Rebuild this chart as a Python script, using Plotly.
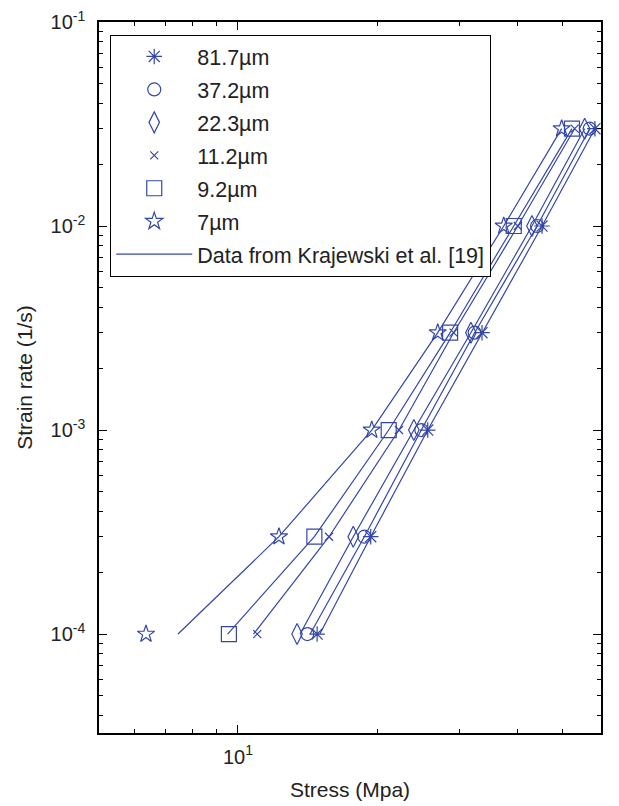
import plotly.graph_objects as go

# Strain rates (1/s)
rates = [1e-4, 3e-4, 1e-3, 3e-3, 1e-2, 3e-2]

# Measured stresses (MPa) for each grain size
grain_labels = ["81.7\u00b5m", "37.2\u00b5m", "22.3\u00b5m", "11.2\u00b5m", "9.2\u00b5m", "7\u00b5m"]
stress_81_7 = [14.8, 19.3, 25.6, 33.5, 45.1, 58.6]
stress_37_2 = [14.1, 18.7, 24.8, 32.3, 44.0, 57.1]
stress_22_3 = [13.4, 17.7, 23.9, 31.7, 42.9, 55.7]
stress_11_2 = [11.0, 15.7, 22.2, 29.1, 40.0, 53.0]
stress_9_2 = [9.56, 14.6, 21.1, 28.6, 39.2, 52.3]
stress_7 = [6.34, 12.25, 19.4, 26.9, 37.3, 49.7]

# Krajewski et al. [19] curves
kraj_81_7 = [15.0, 19.3, 25.6, 33.5, 45.1, 58.6]
kraj_37_2 = [14.3, 18.7, 24.8, 32.3, 44.0, 57.1]
kraj_22_3 = [13.6, 17.7, 23.9, 31.7, 42.9, 55.7]
kraj_11_2 = [10.8, 15.7, 22.2, 29.1, 40.0, 53.0]
kraj_9_2 = [9.5, 14.6, 21.1, 28.6, 39.2, 52.3]
kraj_7 = [7.43, 12.25, 19.4, 26.9, 37.3, 49.7]

# Axis ticks
y_tickvals = [1e-4, 1e-3, 1e-2, 1e-1]
y_ticktext = ["10<sup>-4</sup>", "10<sup>-3</sup>", "10<sup>-2</sup>", "10<sup>-1</sup>"]
x_tickvals = [10]
x_ticktext = ["10<sup>1</sup>"]
x_minor = [6, 7, 8, 9, 20, 30, 40, 50]
y_minor = [m * d for d in [1e-5, 1e-4, 1e-3, 1e-2] for m in range(2, 10)]

BLUE = "#3446a8"
FONT = "Liberation Sans, Arial, sans-serif"

series = [stress_81_7, stress_37_2, stress_22_3, stress_11_2, stress_9_2, stress_7]
krajs = [kraj_81_7, kraj_37_2, kraj_22_3, kraj_11_2, kraj_9_2, kraj_7]
symbols = ["asterisk-open", "circle-open", "diamond-tall-open", "x-thin-open", "square-open", "star-open"]
sizes = [13, 13, 15, 8, 15, 13]

fig = go.Figure()

for i, (lab, s, sym, sz) in enumerate(zip(grain_labels, series, symbols, sizes)):
    fig.add_trace(go.Scatter(
        x=s, y=rates, mode="markers", name=lab,
        legendgroup=f"g{i}",
        marker=dict(symbol=sym, size=sz, color=BLUE, line=dict(color=BLUE, width=1.2)),
    ))

for i, k in enumerate(krajs):
    fig.add_trace(go.Scatter(
        x=k, y=rates, mode="lines", name="Data from Krajewski et al. [19]",
        legendgroup="kraj", showlegend=(i == 0),
        line=dict(color=BLUE, width=1.2),
    ))

axis_common = dict(
    type="log", showline=True, linecolor="black", linewidth=1.5, mirror="ticks",
    ticks="inside", tickcolor="black", ticklen=8, tickwidth=1,
    showgrid=False, zeroline=False, automargin=False,
    tickfont=dict(family=FONT, size=20, color="#222"),
    title_font=dict(family=FONT, size=21, color="#222"),
)

fig.update_xaxes(
    **axis_common,
    range=[0.701, 1.781],
    tickvals=x_tickvals, ticktext=x_ticktext, ticklabelstandoff=5,
    minor=dict(tickvals=x_minor, ticks="inside", ticklen=4, tickcolor="black", showgrid=False),
    title_text="Stress (Mpa)", title_standoff=16,
)
fig.update_yaxes(
    **axis_common,
    range=[-4.485, -1.0],
    tickvals=y_tickvals, ticktext=y_ticktext, ticklabelstandoff=8,
    ticklabeloverflow="allow",
    minor=dict(tickvals=y_minor, ticks="inside", ticklen=4, tickcolor="black", showgrid=False),
    title_text="Strain rate (1/s)", title_standoff=12,
)

fig.update_layout(
    width=619, height=806,
    margin=dict(l=99, r=18, t=22, b=73),
    paper_bgcolor="white", plot_bgcolor="white",
    font=dict(family=FONT, color="#222"),
    legend=dict(
        x=0.022, y=0.982, xanchor="left", yanchor="top",
        bgcolor="white", bordercolor="black", borderwidth=1.2,
        font=dict(family=FONT, size=21.5, color="#222"),
        tracegroupgap=2, itemwidth=76,
    ),
)

# Remove the default page body margin so the figure sits at the window origin
fig.write_html(
    "out.html",
    config={"displayModeBar": False},
    post_script="document.body.style.margin='0';",
)
